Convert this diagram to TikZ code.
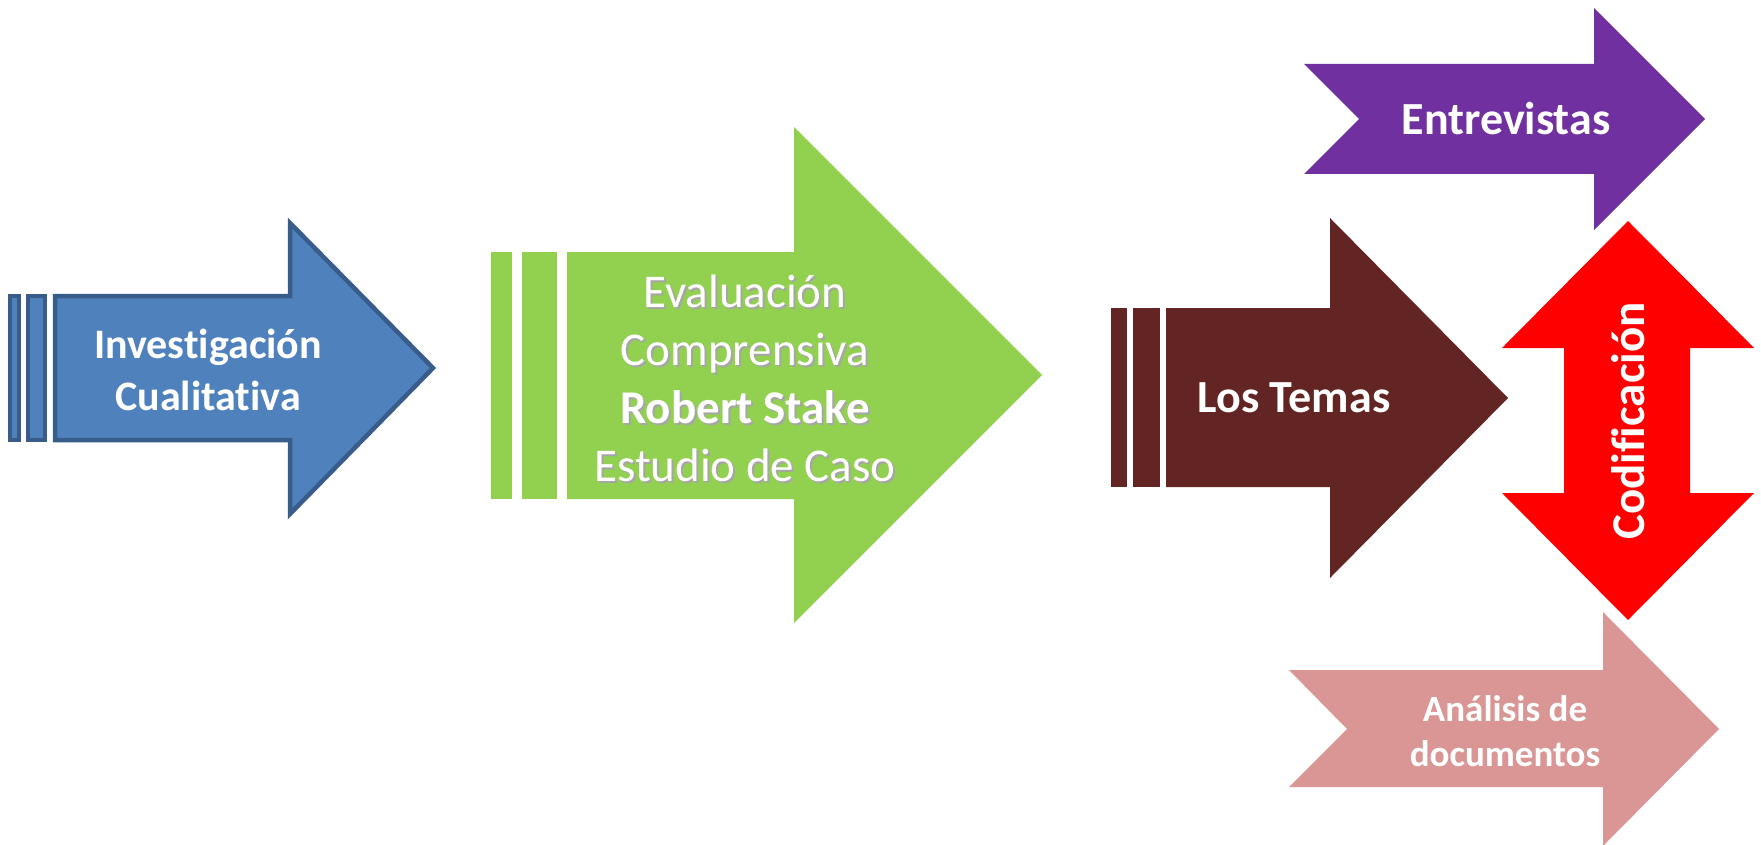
\documentclass[tikz,border=0pt]{standalone}
\usepackage{fontspec}
\setmainfont[Ligatures=NoCommon]{Carlito}
\definecolor{azul}{HTML}{4F81BD}
\definecolor{azulborde}{HTML}{385D8A}
\definecolor{verde}{HTML}{92D050}
\definecolor{cafe}{HTML}{632523}
\definecolor{morado}{HTML}{7030A0}
\definecolor{rosa}{HTML}{D99694}
\definecolor{rojo}{HTML}{FF0000}

\begin{document}
\begin{tikzpicture}[x=1pt,y=-1pt]
                        \tikzstyle{texto}=[text=white, align=center, inner sep=0pt, font=\bfseries\fontsize{46}{56}\selectfont]
                        \tikzstyle{bordeazul}=[fill=azul, draw=azulborde, line width=4.5pt, line join=miter]
                        \useasboundingbox (0,0) rectangle (1761,845);
                        % Investigacion
                        \filldraw[bordeazul] (10,296) rectangle (19,440);
                        \filldraw[bordeazul] (28,296) rectangle (45,440);
                        \filldraw[bordeazul] (55,296) -- (290,296) -- (290,223) -- (433,368)
                            -- (290,514) -- (290,440) -- (55,440) -- cycle;
                        \node[texto, font=\bfseries\fontsize{42}{52}\selectfont] (investigacion) at (208,370)
                            {Investigaci\'on\\Cualitativa};
                        % Evaluacion comprensiva
                        \fill[verde] (491,252) rectangle (512,499);
                        \fill[verde] (522,252) rectangle (557,499);
                        \fill[verde] (567,252) -- (794,252) -- (794,127) -- (1042,375)
                            -- (794,623) -- (794,499) -- (567,499) -- cycle;
                        \node[texto, text=black!35, font=\fontsize{47}{58}\selectfont] (sombra) at (747,380)
                            {Evaluaci\'on\\Comprensiva\\\textbf{Robert Stake}\\Estudio de Caso};
                        \node[texto, font=\fontsize{47}{58}\selectfont] (evaluacion) at (745,378)
                            {Evaluaci\'on\\Comprensiva\\\textbf{Robert Stake}\\Estudio de Caso};
                        % Los temas
                        \fill[cafe] (1111,308) rectangle (1127,487);
                        \fill[cafe] (1133,308) rectangle (1160,487);
                        \fill[cafe] (1166,308) -- (1330,308) -- (1330,218) -- (1508,398)
                            -- (1330,578) -- (1330,487) -- (1166,487) -- cycle;
                        \node[texto] (temas) at (1294,398) {Los Temas};
                        % Entrevistas
                        \fill[morado] (1304,64) -- (1594,64) -- (1594,8) -- (1705,119)
                            -- (1594,230) -- (1594,174) -- (1304,174) -- (1359,119) -- cycle;
                        \node[texto] (entrevistas) at (1506,119) {Entrevistas};
                        % Codificacion
                        \fill[rojo] (1628,221) -- (1754,348) -- (1690,348) -- (1690,493) -- (1754,493)
                            -- (1628,620) -- (1502,493) -- (1564,493) -- (1564,348) -- (1502,348) -- cycle;
                        \node[texto, rotate=90, font=\bfseries\fontsize{47}{56}\selectfont] (codificacion) at (1628,421) {Codificaci\'on};
                        % Analisis de documentos
                        \fill[rosa] (1289,670) -- (1603,670) -- (1603,612) -- (1719,729)
                            -- (1603,846) -- (1603,787) -- (1289,787) -- (1347,729) -- cycle;
                        \node[texto, font=\bfseries\fontsize{37}{45}\selectfont] (analisis) at (1505,731)
                            {An\'alisis de\\documentos};
                    \end{tikzpicture}
\end{document}
